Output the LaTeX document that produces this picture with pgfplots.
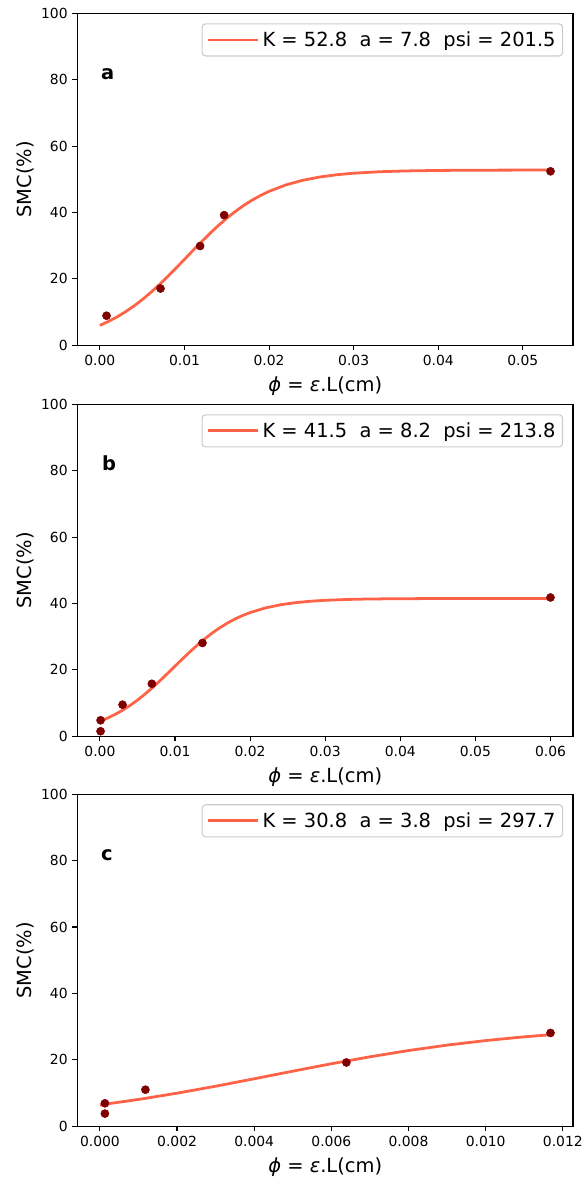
\documentclass[border=0pt]{standalone}
\usepackage{fontspec}
\setmainfont{DejaVu Sans}
\usepackage{pgfplots}
\pgfplotsset{compat=1.18}
\definecolor{tomato}{HTML}{FF6347}
\definecolor{ptcol}{HTML}{800000}
\tikzset{plab/.style={font=\bfseries\fontsize{14bp}{17bp}\selectfont, anchor=base west}}
\pgfplotsset{
  legend image code/.code={\draw[#1, line width=2bp] (0bp,0bp) -- (29.5bp,0bp); \path (0bp,0bp) -- (36.5bp,0bp);},
  panel/.style={
    scale only axis, width=356.9bp, height=239bp,
    anchor=south west,
    ymin=0, ymax=100, ytick={0,20,40,60,80,100},
    axis line style={line width=0.8bp, black},
    tick align=outside, major tick length=3.5bp,
    every tick/.style={black, line width=0.8bp},
    xtick pos=bottom, ytick pos=left,
    scaled x ticks=false,
    /pgf/number format/assume math mode=true,
    tick label style={font=\fontsize{10bp}{12bp}\selectfont},
    xticklabel style={/pgf/number format/.cd, fixed, fixed zerofill, precision=2},
    ylabel={SMC(\%)},
    xlabel={\textit{ϕ} = \textit{ε}.L(cm)},
    label style={font=\fontsize{14bp}{17bp}\selectfont},
    xlabel style={at={(axis description cs:0.5,0)}, anchor=base, yshift=-33.4bp},
    ylabel style={at={(axis description cs:0,0.5)}, anchor=center, yshift=37.7bp},
    legend style={at={(axis description cs:0.98,0.97)}, anchor=north east,
      draw=black!20, line width=0.8bp, rounded corners=2.5bp, fill=white,
      font=\fontsize{14bp}{17bp}\selectfont, inner xsep=3bp, inner ysep=3.5bp},
    legend cell align=left,
  },
  fit/.style={tomato, line width=2bp},
  pts/.style={only marks, mark=*, mark size=2.9bp, color=ptcol, forget plot},
}
\begin{document}
\begin{tikzpicture}
\useasboundingbox (0bp,0bp) rectangle (419.8bp,-848.2bp);

% ---------------- panel a
\begin{axis}[panel, at={(55.7bp,-248.6bp)},
  xmin=-0.00266, xmax=0.05593, xtick={0,0.01,0.02,0.03,0.04,0.05}]
\addplot[fit] coordinates {
(0,6.00) (0.001,7.16) (0.002,8.50) (0.003,10.04) (0.004,11.78) (0.005,13.72)
(0.006,15.87) (0.007,18.19) (0.008,20.66) (0.009,23.24) (0.010,25.88)
(0.011,28.54) (0.012,31.15) (0.013,33.67) (0.014,36.06) (0.015,38.27)
(0.016,40.29) (0.017,42.11) (0.018,43.73) (0.019,45.14) (0.020,46.37)
(0.022,48.32) (0.024,49.72) (0.026,50.70) (0.028,51.38) (0.030,51.84)
(0.033,52.27) (0.036,52.51) (0.040,52.67) (0.045,52.75) (0.0533,52.79)};
\addlegendentry{K = 52.8\ \ a = 7.8\ \ psi = 201.5}
\addplot[pts] coordinates {
(0.00079,8.9) (0.00717,17.1) (0.01185,29.9) (0.01469,39.2) (0.05327,52.4)};
\node[plab] at (axis description cs:0.038,0.8) {a};
\end{axis}

% ---------------- panel b
\begin{axis}[panel, at={(55.7bp,-530.1bp)},
  xmin=-0.003, xmax=0.063, xtick={0,0.01,0.02,0.03,0.04,0.05,0.06}]
\addplot[fit] coordinates {
(0,4.51) (0.001,5.45) (0.002,6.54) (0.003,7.80) (0.004,9.25) (0.005,10.88)
(0.006,12.68) (0.007,14.63) (0.008,16.72) (0.009,18.89) (0.010,21.10)
(0.011,23.31) (0.012,25.45) (0.013,27.50) (0.014,29.41) (0.015,31.16)
(0.016,32.73) (0.017,34.11) (0.018,35.33) (0.019,36.37) (0.020,37.25)
(0.022,38.63) (0.024,39.58) (0.026,40.23) (0.028,40.66) (0.030,40.95)
(0.033,41.21) (0.036,41.35) (0.040,41.43) (0.045,41.48) (0.050,41.49) (0.060,41.50)};
\addlegendentry{K = 41.5\ \ a = 8.2\ \ psi = 213.8}
\addplot[pts] coordinates {
(0.00009,4.8) (0.00009,1.5) (0.00302,9.5) (0.00692,15.8) (0.01366,28.1) (0.0600,41.8)};
\node[plab] at (axis description cs:0.04,0.8) {b};
\end{axis}

% ---------------- panel c
\begin{axis}[panel, at={(55.7bp,-810.9bp)},
  xmin=-0.000584, xmax=0.012264,
  xtick={0,0.002,0.004,0.006,0.008,0.010,0.012},
  xticklabel style={/pgf/number format/.cd, fixed, fixed zerofill, precision=3}]
\addplot[fit] coordinates {
(0,6.42) (0.001,8.06) (0.002,9.95) (0.003,12.05) (0.004,14.29) (0.005,16.58)
(0.006,18.82) (0.007,20.91) (0.008,22.80) (0.009,24.43) (0.010,25.80)
(0.011,26.93) (0.01168,27.56)};
\addlegendentry{K = 30.8\ \ a = 3.8\ \ psi = 297.7}
\addplot[pts] coordinates {
(0.00013,6.9) (0.00013,3.8) (0.00118,11.0) (0.00639,19.2) (0.01168,28.1)};
\node[plab] at (axis description cs:0.038,0.8) {c};
\end{axis}
\end{tikzpicture}
\end{document}
